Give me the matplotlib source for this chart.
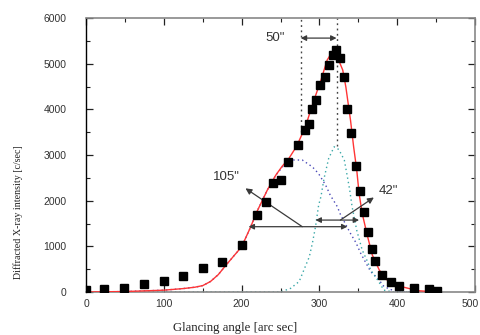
import matplotlib
matplotlib.use("Agg")
import matplotlib.pyplot as plt
import matplotlib.transforms as mtransforms
from matplotlib import font_manager
from matplotlib.ticker import MultipleLocator

# measured data (glancing angle [arc sec], intensity [c/sec])
data_x = [0, 23, 49, 75, 100, 125, 150, 175, 200, 220, 231, 241, 251, 260, 272, 281, 286,
          291, 296, 301, 307, 312, 317, 321, 326, 331, 336, 341, 347, 352, 357, 362, 367,
          371, 381, 392, 402, 422, 441, 451]
data_y = [40, 70, 90, 180, 240, 350, 520, 660, 1030, 1690, 1970, 2390, 2450, 2850, 3220,
          3540, 3680, 4000, 4200, 4530, 4700, 4970, 5190, 5300, 5120, 4700, 4000, 3480,
          2760, 2210, 1750, 1310, 940, 680, 370, 220, 130, 90, 70, 30]

# fitted total curve
fit_x = [0, 50, 100, 125, 140, 150, 160, 170, 180, 190, 200, 211, 220, 233, 244, 252, 261,
         271, 282, 293, 302, 310, 314, 319, 323, 330, 334, 340, 344, 348, 351, 355, 362,
         368, 377, 387, 405, 426, 450]
fit_y = [0, 10, 40, 75, 105, 140, 230, 380, 590, 790, 990, 1400, 1770, 2230, 2560, 2750,
         2930, 3200, 3620, 4200, 4640, 5080, 5190, 5220, 5150, 4860, 4490, 3760, 3180,
         2670, 2160, 1720, 1210, 810, 480, 260, 120, 30, 0]

# broad component (dark blue dotted)
comp1_x = [0, 50, 100, 125, 140, 150, 160, 170, 180, 190, 200, 211, 220, 233, 244, 255,
           267, 278, 291, 299, 308, 314, 323, 327, 340, 347, 353, 360, 366, 375, 383, 395,
           410, 455]
comp1_y = [0, 10, 40, 75, 105, 140, 230, 380, 590, 790, 990, 1400, 1770, 2230, 2560, 2790,
           2890, 2890, 2740, 2590, 2340, 2120, 1870, 1700, 1280, 1080, 850, 630, 445, 300,
           120, 30, 0, 0]

# narrow component (teal dotted)
comp2_x = [0, 250, 263, 274, 280, 287, 291, 295, 299, 302, 306, 312, 319, 325, 332, 336,
           339, 342, 348, 355, 362, 366, 375, 383, 395, 455]
comp2_y = [0, 0, 80, 230, 480, 770, 1070, 1430, 1900, 2090, 2490, 2930, 3180, 3120, 2890,
           2520, 2230, 1870, 1350, 920, 660, 480, 260, 40, 0, 0]

# peak positions and widths marked on the chart
peak_pos = [276, 322]
peak_sep_label = '50"'
fwhm_broad = [209, 336, 1430]   # x_left, x_right, level
fwhm_broad_label = '105"'
fwhm_narrow = [295, 351, 1575]
fwhm_narrow_label = '42"'

x_ticks = [0, 100, 200, 300, 400, 500]
y_ticks = [0, 1000, 2000, 3000, 4000, 5000, 6000]

available = {f.name for f in font_manager.fontManager.ttflist}
if 'Liberation Sans Narrow' in available:
    ylab_family, ylab_size = 'Liberation Sans Narrow', 9.0
else:
    ylab_family, ylab_size = 'Liberation Serif', 7.2

fig = plt.figure(figsize=(4.8, 3.35), dpi=100)
ax = fig.add_axes([86/480, 1 - 292/335, (475 - 86)/480, (292 - 18)/335])

ax.plot(comp1_x, comp1_y, color='#4a4ab8', lw=1.0, ls=(0, (1, 2.2)), zorder=2)
ax.plot(comp2_x, comp2_y, color='#3aa8a8', lw=1.0, ls=(0, (1, 2.2)), zorder=2)
ax.plot(fit_x, fit_y, color='#ff3535', lw=1.0, zorder=3)
ax.plot(data_x, data_y, ls='none', marker='s', ms=5.5, color='black', zorder=4)

# vertical dotted lines at peak positions
ax.plot([peak_pos[0], peak_pos[0]], [3500, 6000], color='#444444', lw=1.0,
        ls=(0, (1.3, 2.5)), zorder=2)
ax.plot([peak_pos[1], peak_pos[1]], [3200, 6000], color='#444444', lw=1.0,
        ls=(0, (1.3, 2.5)), zorder=2)

acol = '#3a3a3a'
aprops = dict(arrowstyle='<|-|>', color=acol, lw=0.9, mutation_scale=8,
              shrinkA=0, shrinkB=0)
sprops = dict(arrowstyle='-|>', color=acol, lw=0.9, mutation_scale=9,
              shrinkA=0, shrinkB=0)

# 50" separation
ax.annotate('', xy=(peak_pos[0], 5560), xytext=(peak_pos[1], 5560), arrowprops=aprops)
ax.text(243, 5560, peak_sep_label, ha='center', va='center', fontsize=9.5,
        color='#333333', family='Liberation Sans')

# 105" width
ax.annotate('', xy=(fwhm_broad[0], fwhm_broad[2]), xytext=(fwhm_broad[1], fwhm_broad[2]),
            arrowprops=aprops)
ax.annotate('', xy=(205, 2270), xytext=(278, fwhm_broad[2]), arrowprops=sprops)
ax.text(180, 2520, fwhm_broad_label, ha='center', va='center', fontsize=9.5,
        color='#333333', family='Liberation Sans')

# 42" width
ax.annotate('', xy=(fwhm_narrow[0], fwhm_narrow[2]), xytext=(fwhm_narrow[1], fwhm_narrow[2]),
            arrowprops=aprops)
ax.annotate('', xy=(370, 2070), xytext=(327, fwhm_narrow[2]), arrowprops=sprops)
ax.text(389, 2215, fwhm_narrow_label, ha='center', va='center', fontsize=9.5,
        color='#333333', family='Liberation Sans')

ax.set_xlim(0, 500)
ax.set_ylim(0, 6000)
ax.set_xticks(x_ticks)
ax.set_yticks(y_ticks)
ax.xaxis.set_minor_locator(MultipleLocator(50))
ax.yaxis.set_minor_locator(MultipleLocator(500))
ax.tick_params(which='both', direction='in', top=True, right=True, colors='#222222',
               labelcolor='#333333', labelsize=7.5)
ax.tick_params(which='major', length=5, width=0.9)
ax.tick_params(which='minor', length=3, width=0.8)
ax.tick_params(axis='y', pad=14)
ax.tick_params(axis='x', pad=5)
for lab in ax.get_xticklabels() + ax.get_yticklabels():
    lab.set_family('Liberation Sans')
# nudge the last x label left so it stays inside the figure
last = ax.get_xticklabels()[-1]
last.set_transform(last.get_transform() +
                   mtransforms.ScaledTranslation(-5/100, 0, fig.dpi_scale_trans))

for side in ['top', 'right', 'bottom']:
    ax.spines[side].set_color('#888888')
    ax.spines[side].set_linewidth(1.2)
ax.spines['left'].set_color('black')
ax.spines['left'].set_linewidth(1.0)

fig.text(235/480, 1 - 328/335, 'Glancing angle [arc sec]', ha='center', va='center',
         fontsize=9.2, family='Liberation Serif', color='#222222')
fig.text(18/480, 1 - 212/335, 'Diffracted X-ray intensity [c/sec]', ha='center',
         va='center', rotation=90, fontsize=ylab_size, family=ylab_family, color='#222222')

fig.savefig('out.png', dpi=100)
